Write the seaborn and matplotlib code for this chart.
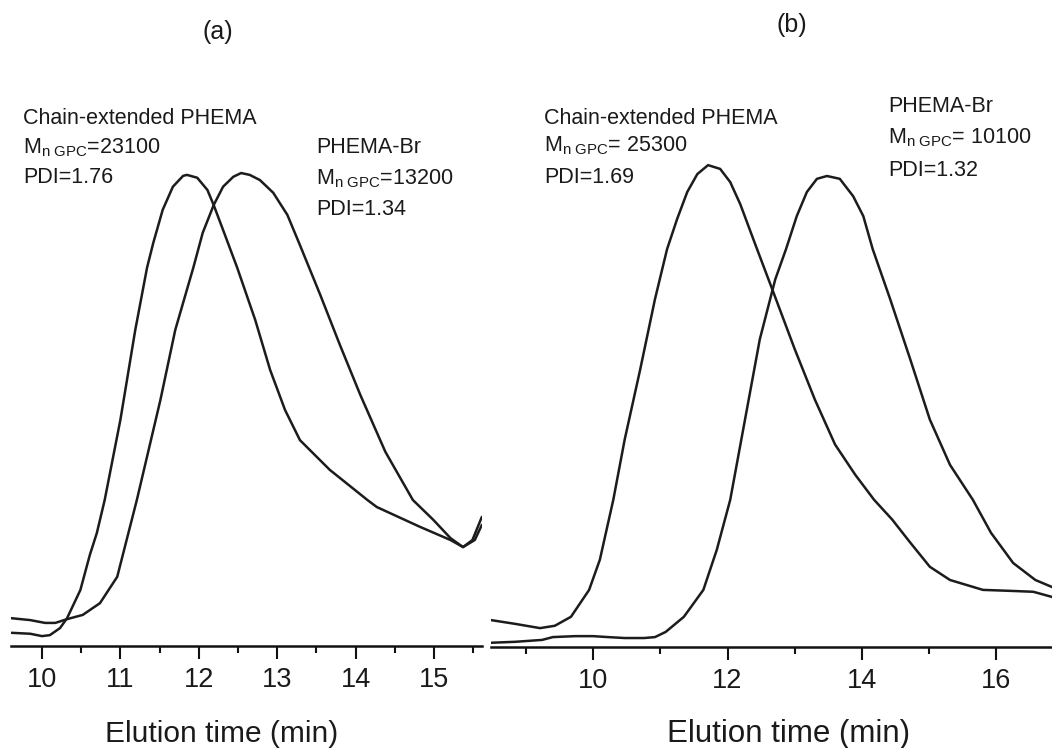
import matplotlib
matplotlib.use("Agg")
import matplotlib.pyplot as plt
from matplotlib.ticker import MultipleLocator, FixedLocator
import seaborn as sns

# ---- GPC traces, panel (a) ----
a_chain_time = [9.61, 9.85, 10.00, 10.10, 10.23, 10.32, 10.49, 10.61, 10.70, 10.80,
                11.00, 11.19, 11.34, 11.42, 11.54, 11.67, 11.80, 11.85, 11.98, 12.11,
                12.19, 12.31, 12.49, 12.72, 12.91, 13.10, 13.29, 13.67, 14.15, 14.27,
                14.82, 15.21, 15.37, 15.52, 15.61]
a_chain_signal = [2.8, 2.6, 2.1, 2.3, 3.8, 5.9, 11.9, 19.3, 24.0, 31.0,
                  48.0, 67.1, 80.3, 85.6, 92.6, 97.5, 99.8, 100.0, 99.4, 96.8,
                  93.6, 88.3, 80.3, 69.2, 58.6, 50.1, 43.7, 37.4, 31.0, 29.5,
                  25.3, 22.5, 21.0, 22.5, 25.7]

a_br_time = [9.61, 9.85, 10.04, 10.17, 10.32, 10.52, 10.74, 10.96, 11.21, 11.51,
             11.70, 11.93, 12.05, 12.19, 12.31, 12.44, 12.54, 12.65, 12.78, 12.95,
             13.13, 13.29, 13.55, 13.80, 14.06, 14.38, 14.73, 14.99, 15.21, 15.37,
             15.49, 15.61]
a_br_signal = [5.9, 5.5, 4.9, 4.9, 5.7, 6.6, 9.1, 14.7, 31.0, 52.2,
               67.1, 80.3, 87.7, 93.6, 97.5, 99.6, 100.4, 100.0, 98.9, 96.2,
               91.5, 85.1, 74.5, 63.9, 53.3, 41.2, 31.0, 26.8, 22.9, 21.0,
               22.5, 27.4]

# ---- GPC traces, panel (b) ----
b_chain_time = [8.48, 8.84, 9.21, 9.43, 9.67, 9.94, 10.10, 10.30, 10.47, 10.70,
                10.92, 11.10, 11.25, 11.40, 11.55, 11.71, 11.89, 12.04, 12.19, 12.41,
                12.71, 13.00, 13.30, 13.60, 13.90, 14.18, 14.45, 14.72, 15.01, 15.31,
                15.80, 16.20, 16.55, 16.83]
b_chain_signal = [5.7, 4.9, 4.0, 4.5, 6.4, 12.1, 18.5, 31.2, 44.0, 58.8,
                  73.7, 84.3, 90.7, 96.4, 100.2, 102.1, 101.3, 98.5, 93.8, 85.4,
                  74.1, 63.1, 52.4, 42.9, 36.5, 31.2, 27.0, 22.1, 17.0, 14.2,
                  12.1, 11.9, 11.7, 10.6]

b_br_time = [8.48, 8.84, 9.24, 9.40, 9.73, 10.00, 10.22, 10.47, 10.76, 10.92,
             11.08, 11.35, 11.64, 11.84, 12.04, 12.26, 12.48, 12.71, 12.87, 13.03,
             13.18, 13.33, 13.48, 13.67, 13.87, 14.02, 14.16, 14.42, 14.72, 15.01,
             15.31, 15.65, 15.92, 16.25, 16.58, 16.83]
b_br_signal = [0.9, 1.1, 1.5, 2.1, 2.3, 2.3, 2.1, 1.9, 1.9, 2.1,
               3.2, 6.4, 12.1, 20.6, 31.2, 48.2, 65.2, 77.9, 84.3, 91.3,
               96.4, 99.2, 99.8, 99.2, 95.5, 91.3, 84.3, 73.7, 60.9, 48.2,
               38.6, 31.2, 24.2, 17.8, 14.2, 12.7]

a_ticks_major = [10, 11, 12, 13, 14, 15]
b_ticks_major = [10, 12, 14, 16]

a_labels = [("Chain-extended PHEMA", r"M$_{\rm n\ GPC}$=23100", "PDI=1.76"),
            ("PHEMA-Br", r"M$_{\rm n\ GPC}$=13200", "PDI=1.34")]
b_labels = [("Chain-extended PHEMA", r"M$_{\rm n\ GPC}$= 25300", "PDI=1.69"),
            ("PHEMA-Br", r"M$_{\rm n\ GPC}$= 10100", "PDI=1.32")]

sns.set_theme(style="white")
plt.rcParams["font.family"] = ["Liberation Sans", "DejaVu Sans"]
plt.rcParams["mathtext.fontset"] = "custom"
plt.rcParams["mathtext.rm"] = "Liberation Sans"
plt.rcParams["mathtext.it"] = "Liberation Sans:italic"
plt.rcParams["mathtext.bf"] = "Liberation Sans:bold"

W, H = 1052, 748
fig = plt.figure(figsize=(W / 100, H / 100), dpi=100)


def px(x, y):
    """Pixel position (from top-left) to figure fraction."""
    return x / W, 1 - y / H


line_kw = dict(color="#1c1c1c", linewidth=1.8, estimator=None, legend=False)
YMAX = 115.9


def style_axis(ax, xlim, major, minor_step):
    ax.set_xlim(*xlim)
    ax.set_ylim(0, YMAX)
    for s in ("left", "right", "top"):
        ax.spines[s].set_visible(False)
    ax.spines["bottom"].set_linewidth(1.8)
    ax.spines["bottom"].set_color("#111111")
    ax.set_yticks([])
    ax.xaxis.set_major_locator(FixedLocator(major))
    ax.xaxis.set_minor_locator(MultipleLocator(minor_step))
    ax.tick_params(axis="x", which="major", direction="out", length=9, width=1.5,
                   color="#111111", labelsize=19.5, pad=6, bottom=True,
                   labelcolor="#1a1a1a")
    ax.tick_params(axis="x", which="minor", direction="out", length=5, width=1.5,
                   color="#111111", bottom=True)
    ax.set_xlabel("")
    ax.set_ylabel("")
    ax.patch.set_alpha(0)


# panel (a)
axa = fig.add_axes([11 / W, 1 - 646 / H, 471 / W, 546 / H])
sns.lineplot(x=a_chain_time, y=a_chain_signal, ax=axa, **line_kw)
sns.lineplot(x=a_br_time, y=a_br_signal, ax=axa, **line_kw)
style_axis(axa, (9.605, 15.612), a_ticks_major, 0.5)

# panel (b)
axb = fig.add_axes([491 / W, 1 - 647 / H, 561 / W, 547 / H])
sns.lineplot(x=b_chain_time, y=b_chain_signal, ax=axb, **line_kw)
sns.lineplot(x=b_br_time, y=b_br_signal, ax=axb, **line_kw)
style_axis(axb, (8.48, 16.828), b_ticks_major, 1)

# panel titles
fig.text(*px(218, 32), "(a)", fontsize=18, ha="center", va="center", color="#1a1a1a")
fig.text(*px(792, 25), "(b)", fontsize=18, ha="center", va="center", color="#1a1a1a")

# axis titles
fig.text(*px(222, 742), "Elution time (min)", fontsize=21.5, ha="center", va="baseline",
         color="#1a1a1a")
fig.text(*px(789, 742), "Elution time (min)", fontsize=22.5, ha="center", va="baseline",
         color="#1a1a1a")

# sample annotations
text_kw = dict(fontsize=15.5, ha="left", va="baseline", color="#1a1a1a")
blocks = [
    (23, (124, 153, 183), a_labels[0]),
    (316, (153, 184, 215), a_labels[1]),
    (544, (124, 151, 183), b_labels[0]),
    (888, (112, 143, 176), b_labels[1]),
]
for x0, ys, lines in blocks:
    for yb, s in zip(ys, lines):
        fig.text(*px(x0, yb), s, **text_kw)

fig.savefig("out.png", dpi=100, facecolor="white")
